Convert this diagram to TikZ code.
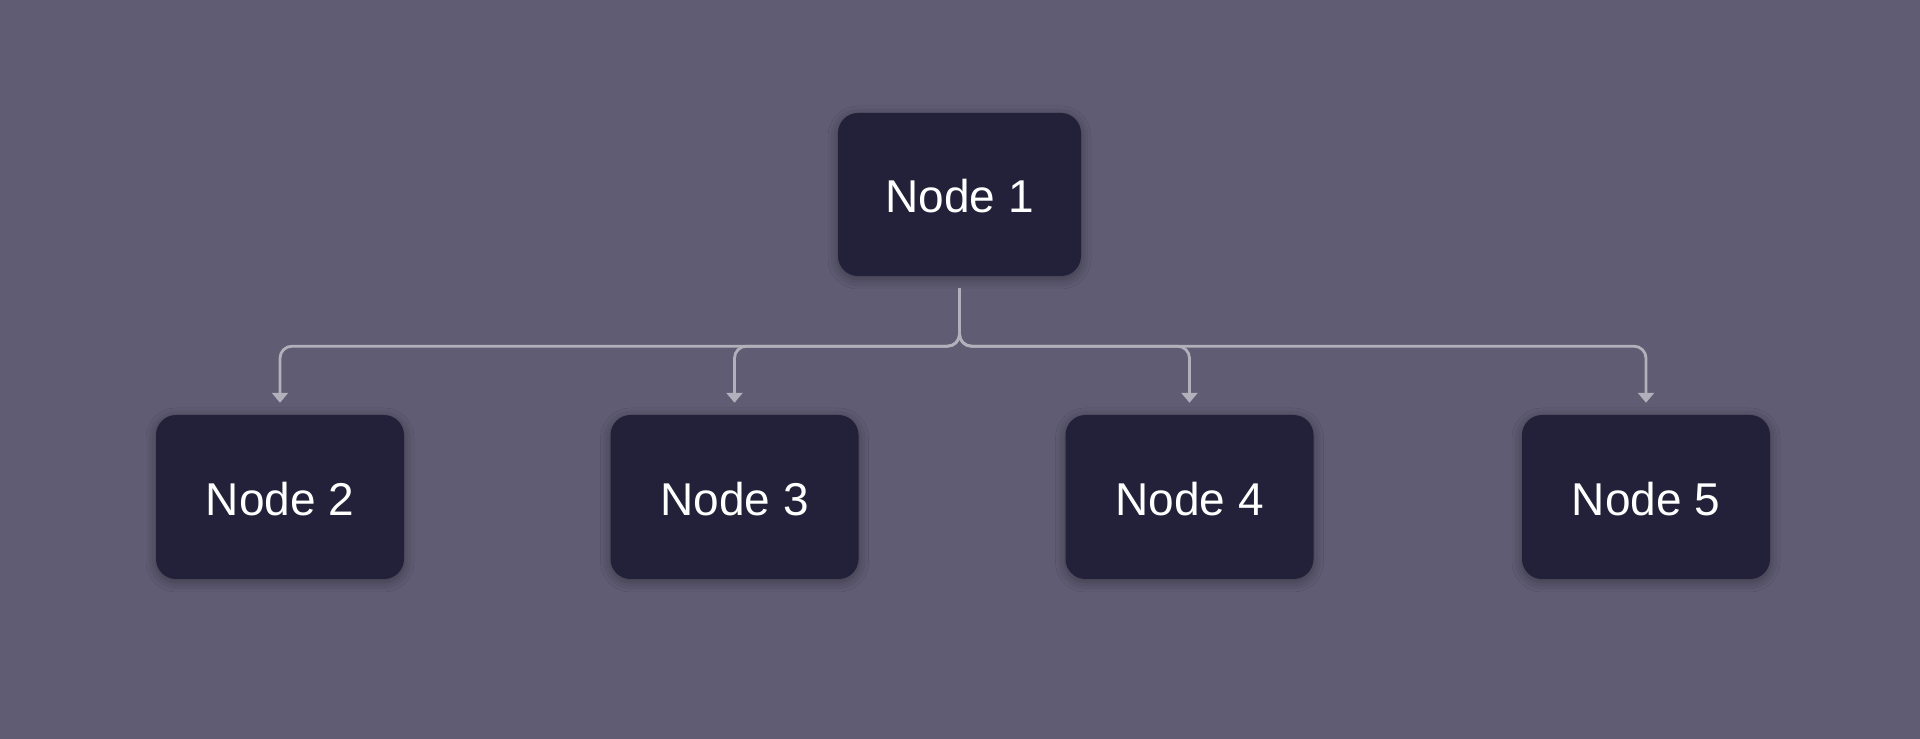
\documentclass[tikz,border=0pt]{standalone}
\usepackage{fontspec}
\setmainfont{Liberation Sans}
\usetikzlibrary{arrows.meta,shadows.blur}
\definecolor{bgc}{HTML}{5F5C73}
\definecolor{boxc}{HTML}{232139}
\definecolor{linec}{HTML}{B2B0BA}
\tikzset{
  box/.style={draw=none, fill=boxc, rounded corners=20pt, inner sep=0pt,
    font=\fontsize{46}{52}\selectfont, text=white, text height=37pt, text depth=0pt,
    blur shadow={shadow xshift=0pt, shadow yshift=-3pt, shadow blur radius=10pt, shadow opacity=35}},
  topbox/.style={box, minimum width=243pt, minimum height=163pt},
  lowbox/.style={box, minimum width=248pt, minimum height=164pt},
  conn/.style={draw=linec, line width=2.8pt, rounded corners=12pt,
    -{Triangle[width=16pt,length=10pt]}}
}
\begin{document}
\begin{tikzpicture}[x=1pt,y=1pt]
\useasboundingbox (0,0) rectangle (1920,739);
\fill[bgc] (0,0) rectangle (1920,739);
\node[topbox] (n1) at (959.5,544.5) {Node 1};
\node[lowbox] (n2) at (280,242) {Node 2};
\node[lowbox] (n3) at (734.5,242) {Node 3};
\node[lowbox] (n4) at (1189.5,242) {Node 4};
\node[lowbox] (n5) at (1646,242) {Node 5};
\foreach \t in {n2,n3,n4,n5}{
  \draw[conn] ([yshift=-12pt]n1.south) -- ([yshift=-70pt]n1.south) -| ([yshift=12pt]\t.north);
}
\end{tikzpicture}
\end{document}
